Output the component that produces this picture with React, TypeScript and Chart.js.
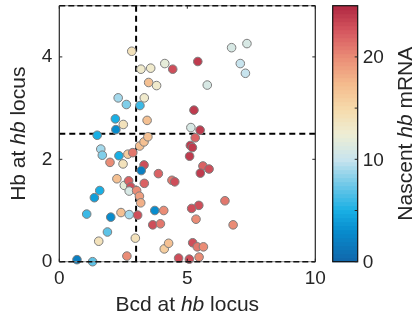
import React, { useEffect, useRef } from "react";
import { Chart, registerables } from "chart.js";

Chart.register(...registerables);

// Bcd at the hb locus (x), Hb at the hb locus (y), nascent hb mRNA (colour)
const BCD = [
  2.83, 3.19, 3.57, 4.12, 4.43, 5.41, 3.49, 3.8, 5.78, 2.3,
  2.62, 3.32, 3.15, 5.26, 2.19, 2.5, 3.43, 2.21, 5.14, 5.5,
  1.48, 6.73, 7.33, 7.07, 7.27, 5.31, 1.62, 1.68, 1.98, 2.33,
  2.49, 2.68, 2.87, 3.14, 3.31, 3.46, 3.31, 3.2, 3.87, 2.25,
  2.54, 2.71, 2.79, 2.73, 3.32, 3.02, 3.13, 3.18, 1.58, 1.37,
  4.4, 4.51, 1.07, 2.01, 2.41, 2.73, 3.06, 3.73, 4.08, 3.65,
  3.95, 1.88, 1.54, 2.97, 2.64, 0.69, 1.3, 4.1, 4.27, 4.66,
  5.08, 5.46, 5.21, 5.39, 5.63, 5.12, 5.2, 5.09, 5.61, 5.85,
  5.51, 6.47, 5.45, 5.17, 5.34, 6.79,
];
const HB = [
  4.11, 3.76, 3.78, 3.87, 3.76, 3.91, 3.5, 3.44, 3.45, 3.2,
  3.07, 3.2, 3.05, 2.96, 2.79, 2.68, 2.76, 2.58, 2.62, 2.57,
  2.47, 4.18, 4.26, 3.87, 3.68, 2.42, 2.2, 2.08, 1.94, 2.07,
  1.91, 2.1, 2.13, 2.26, 2.34, 2.44, 1.89, 1.78, 1.72, 1.62,
  1.49, 1.58, 1.46, 1.38, 1.53, 1.39, 1.28, 1.15, 1.39, 1.25,
  1.59, 1.56, 0.93, 0.87, 0.96, 0.92, 0.91, 1.0, 1.0, 0.72,
  0.74, 0.58, 0.4, 0.46, 0.11, 0.04, 0.0, 0.25, 0.36, 0.07,
  0.05, 0.09, 0.37, 0.29, 0.29, 2.27, 2.23, 2.06, 1.87, 1.81,
  1.73, 1.19, 1.1, 1.04, 0.83, 0.72,
];
const NASCENT = [
  14, 13, 13, 12, 23, 24, 17, 13, 11, 9,
  8, 13, 6, 24, 5, 14, 17, 3, 11, 24,
  5, 11, 11, 10, 10, 22, 9, 8, 20, 5,
  14, 16, 21, 17, 17, 17, 23, 2, 22, 17,
  12, 22, 23, 11, 22, 20, 19, 18, 5, 4,
  21, 23, 6, 3, 17, 9, 23, 3, 20, 23,
  21, 7, 14, 14, 20, 2, 7, 16, 17, 23,
  23, 20, 23, 21, 20, 24, 24, 24, 22, 23,
  24, 21, 23, 23, 20, 20,
];

// Gating thresholds
const THRESHOLD_BCD = 3;
const THRESHOLD_HB = 2.5;

// Axes
const X_RANGE = [0, 10];
const Y_RANGE = [0, 5];
const X_LABELS = [0, 5, 10];
const Y_LABELS = [0, 2, 4];

// Colour bar
const CBAR_RANGE = [0, 25];
const CBAR_TICKS = [0, 5, 10, 15, 20, 25];
const CBAR_LABELS = [0, 10, 20];

const FONT = "'Liberation Sans', Arial, Helvetica, sans-serif";
const INK = "#262626";

// Diverging blue -> pale -> red colour map
const STOPS: [number, number[]][] = [
  [0, [17, 101, 170]],
  [3, [8, 140, 205]],
  [5, [25, 175, 228]],
  [7.5, [110, 200, 232]],
  [10, [200, 228, 238]],
  [12.5, [238, 238, 212]],
  [15, [246, 218, 170]],
  [17.5, [244, 185, 140]],
  [20, [234, 140, 118]],
  [22.5, [214, 88, 96]],
  [25, [176, 40, 66]],
];

function colorAt(v: number): string {
  if (v <= STOPS[0][0]) return `rgb(${STOPS[0][1].join(",")})`;
  for (let i = 1; i < STOPS.length; i++) {
    const [v1, c1] = STOPS[i];
    const [v0, c0] = STOPS[i - 1];
    if (v <= v1) {
      const t = (v - v0) / (v1 - v0);
      const c = c0.map((a, k) => Math.round(a + (c1[k] - a) * t));
      return `rgb(${c.join(",")})`;
    }
  }
  return `rgb(${STOPS[STOPS.length - 1][1].join(",")})`;
}

// Draws text made of plain and italic runs, centred on (0, 0) at baseline 0
function drawRuns(ctx: CanvasRenderingContext2D, runs: [string, boolean][], size: number) {
  const fonts = runs.map(([, it]) => `${it ? "italic " : ""}${size}px ${FONT}`);
  let total = 0;
  const widths = runs.map(([t], i) => {
    ctx.font = fonts[i];
    const w = ctx.measureText(t).width;
    total += w;
    return w;
  });
  let x = -total / 2;
  ctx.textAlign = "left";
  ctx.textBaseline = "alphabetic";
  ctx.fillStyle = INK;
  runs.forEach(([t], i) => {
    ctx.font = fonts[i];
    ctx.fillText(t, x, 0);
    x += widths[i];
  });
}

const framePlugin = {
  id: "frame",
  afterDatasetsDraw(chart: any) {
    const { ctx, chartArea: a, scales } = chart;
    ctx.save();
    // top and bottom edges
    ctx.lineWidth = 1;
    ctx.strokeStyle = "#8a8a8a";
    ctx.beginPath();
    ctx.moveTo(a.left, a.top);
    ctx.lineTo(a.right, a.top);
    ctx.moveTo(a.left, a.bottom);
    ctx.lineTo(a.right, a.bottom);
    ctx.stroke();
    ctx.strokeStyle = "#111";
    ctx.lineWidth = 1.5;
    ctx.setLineDash([6, 3]);
    ctx.beginPath();
    ctx.moveTo(a.left, a.top);
    ctx.lineTo(a.right, a.top);
    ctx.moveTo(a.left, a.bottom);
    ctx.lineTo(a.right, a.bottom);
    ctx.stroke();
    ctx.setLineDash([]);
    // left and right edges
    ctx.strokeStyle = INK;
    ctx.lineWidth = 1.2;
    ctx.beginPath();
    ctx.moveTo(a.left, a.top);
    ctx.lineTo(a.left, a.bottom);
    ctx.moveTo(a.right, a.top);
    ctx.lineTo(a.right, a.bottom);
    ctx.stroke();
    // inward tick marks
    const len = 3;
    ctx.lineWidth = 1;
    ctx.beginPath();
    scales.y.ticks.forEach((t: any) => {
      const py = scales.y.getPixelForValue(t.value);
      ctx.moveTo(a.left, py);
      ctx.lineTo(a.left + len, py);
      ctx.moveTo(a.right, py);
      ctx.lineTo(a.right - len, py);
    });
    scales.x.ticks.forEach((t: any) => {
      const px = scales.x.getPixelForValue(t.value);
      ctx.moveTo(px, a.bottom);
      ctx.lineTo(px, a.bottom - len);
      ctx.moveTo(px, a.top);
      ctx.lineTo(px, a.top + len);
    });
    ctx.stroke();
    ctx.restore();
  },
  afterDraw(chart: any) {
    const { ctx, chartArea: a } = chart;
    ctx.save();
    // x-axis title
    ctx.save();
    ctx.translate((a.left + a.right) / 2, a.bottom + 49);
    drawRuns(ctx, [["Bcd at ", false], ["hb", true], [" locus", false]], 21);
    ctx.restore();
    // y-axis title
    ctx.save();
    ctx.translate(a.left - 34, (a.top + a.bottom) / 2);
    ctx.rotate(-Math.PI / 2);
    drawRuns(ctx, [["Hb at ", false], ["hb", true], [" locus", false]], 21);
    ctx.restore();

    // colour bar
    const x0 = a.right + 17.4;
    const w = 25;
    const top = a.top;
    const bot = a.bottom;
    const [cmin, cmax] = CBAR_RANGE;
    const bands = 64;
    const bh = (bot - top) / bands;
    for (let i = 0; i < bands; i++) {
      const v = cmin + ((i + 0.5) / bands) * (cmax - cmin);
      ctx.fillStyle = colorAt(v);
      ctx.fillRect(x0, bot - (i + 1) * bh, w, bh + 0.5);
    }
    ctx.strokeStyle = "#111";
    ctx.lineWidth = 1.2;
    ctx.strokeRect(x0, top, w, bot - top);
    const cy = (v: number) => bot - ((v - cmin) / (cmax - cmin)) * (bot - top);
    ctx.lineWidth = 1;
    ctx.strokeStyle = INK;
    ctx.beginPath();
    CBAR_TICKS.forEach((v) => {
      ctx.moveTo(x0 + w, cy(v));
      ctx.lineTo(x0 + w - 3, cy(v));
    });
    ctx.stroke();
    ctx.fillStyle = INK;
    ctx.font = `19px ${FONT}`;
    ctx.textAlign = "left";
    ctx.textBaseline = "middle";
    CBAR_LABELS.forEach((v) => ctx.fillText(String(v), x0 + w + 5, cy(v) + 1));
    // colour bar title
    ctx.save();
    ctx.translate(x0 + w + 54, (top + bot) / 2);
    ctx.rotate(-Math.PI / 2);
    drawRuns(ctx, [["Nascent ", false], ["hb", true], [" mRNA", false]], 21);
    ctx.restore();
    ctx.restore();
  },
};

export default function App() {
  const ref = useRef<HTMLCanvasElement | null>(null);

  useEffect(() => {
    if (!ref.current) return;
    const points = BCD.map((x, i) => ({ x, y: HB[i] }));
    const chart = new Chart(ref.current, {
      type: "scatter",
      data: {
        datasets: [
          {
            type: "line",
            data: [
              { x: THRESHOLD_BCD, y: Y_RANGE[0] },
              { x: THRESHOLD_BCD, y: Y_RANGE[1] },
            ],
            borderColor: "#000",
            borderWidth: 2,
            borderDash: [6, 4],
            pointRadius: 0,
            order: 3,
          } as any,
          {
            type: "line",
            data: [
              { x: X_RANGE[0], y: THRESHOLD_HB },
              { x: X_RANGE[1], y: THRESHOLD_HB },
            ],
            borderColor: "#000",
            borderWidth: 2,
            borderDash: [6, 4],
            pointRadius: 0,
            order: 2,
          } as any,
          {
            data: points,
            pointRadius: 4.3,
            pointBorderWidth: 1,
            pointBorderColor: "#7d7d7d",
            pointBackgroundColor: NASCENT.map(colorAt),
            clip: false,
            order: 1,
          } as any,
        ],
      },
      options: {
        animation: false,
        responsive: false,
        events: [],
        layout: { padding: { top: 5.7, right: 101.7, left: 0, bottom: 0 } },
        plugins: { legend: { display: false }, tooltip: { enabled: false } },
        scales: {
          x: {
            type: "linear",
            min: X_RANGE[0],
            max: X_RANGE[1],
            grid: { display: false, drawTicks: false },
            border: { display: false },
            afterFit: (s: any) => {
              s.height = 58.3;
              s.paddingLeft = 0;
              s.paddingRight = 0;
            },
            ticks: {
              stepSize: 1,
              autoSkip: false,
              maxRotation: 0,
              padding: 6,
              color: INK,
              font: { family: FONT, size: 19 },
              callback: (v: any) => (X_LABELS.includes(Number(v)) ? String(v) : null),
            },
          },
          y: {
            type: "linear",
            min: Y_RANGE[0],
            max: Y_RANGE[1],
            grid: { display: false, drawTicks: false },
            border: { display: false },
            afterFit: (s: any) => {
              s.width = 59.3;
              s.paddingTop = 0;
              s.paddingBottom = 0;
            },
            ticks: {
              stepSize: 1,
              autoSkip: false,
              padding: 7,
              color: INK,
              font: { family: FONT, size: 19 },
              callback: (v: any) => (Y_LABELS.includes(Number(v)) ? String(v) : null),
            },
          },
        },
      },
      plugins: [framePlugin],
    });
    return () => chart.destroy();
  }, []);

  return (
    <div style={{ position: "fixed", left: 0, top: 0, width: 417, height: 320, background: "#fff" }}>
      <canvas ref={ref} width={417} height={320} style={{ width: 417, height: 320 }} />
    </div>
  );
}
